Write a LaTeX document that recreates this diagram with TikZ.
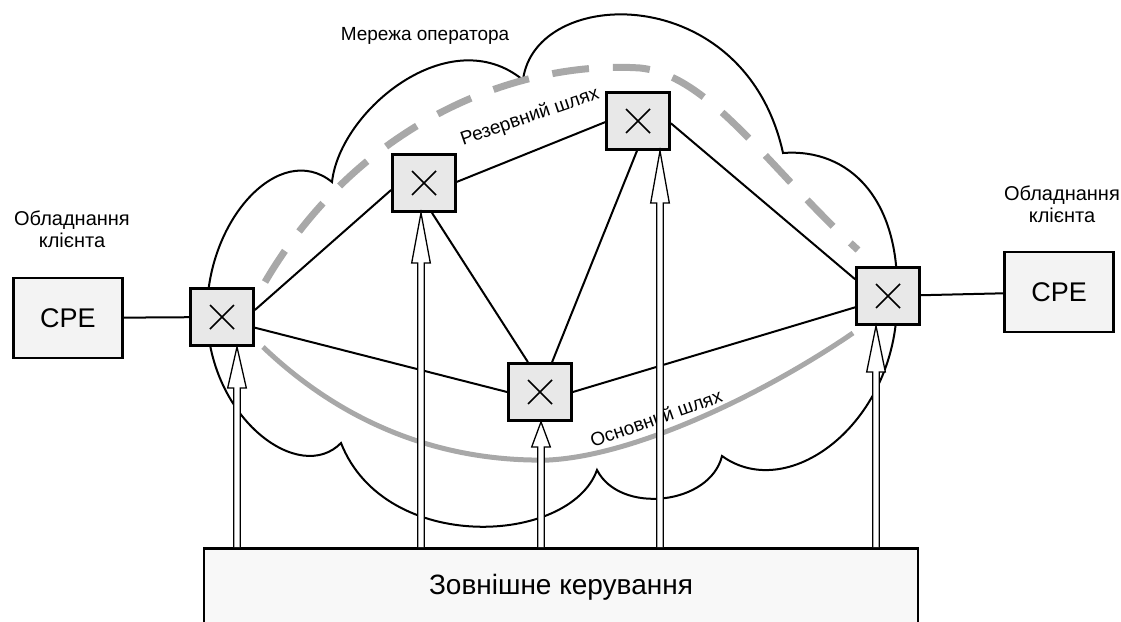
\documentclass[tikz,border=0pt]{standalone}
\usepackage{fontspec}
\setmainfont{Liberation Sans}
\usetikzlibrary{calc}
\definecolor{swfill}{HTML}{E8E8E8}
\definecolor{cpefill}{HTML}{F3F3F3}
\definecolor{mgmtfill}{HTML}{F8F8F8}
\definecolor{route}{HTML}{A8A8A8}
\tikzset{
  sw/.style={draw, line width=2.8pt, fill=swfill, minimum width=63pt, minimum height=57pt, inner sep=0pt,
    path picture={\draw[line width=1.5pt]
      ([shift={(-12pt,-12pt)}]path picture bounding box.center) -- ++(24pt,24pt)
      ([shift={(-12pt,12pt)}]path picture bounding box.center) -- ++(24pt,-24pt);}},
  cpe/.style={draw, line width=2.8pt, fill=cpefill, minimum width=109pt, minimum height=80pt,
    font=\fontsize{27}{30}\selectfont},
  mgmt/.style={draw, line width=2.8pt, fill=mgmtfill, anchor=north, minimum width=714pt,
    minimum height=95pt, text depth=24pt, font=\fontsize{28}{32}\selectfont},
  link/.style={line width=2pt},
  cloud/.style={line width=2pt},
  mainroute/.style={draw=route, line width=5pt},
  backroute/.style={draw=route, line width=7pt, dash pattern=on 37pt off 24pt},
  ctl/.style={fill=white, line width=1.3pt},
  lbl/.style={font=\fontsize{19}{22}\selectfont, align=center}
}
% hollow double-line control arrow: shaft x, from node, to node, head length
\newcommand{\ctrlarrow}[4]{%
  \coordinate (cx) at (#1,0);
  \draw[ctl] ($(cx |- #2.north)+(-3.3,0)$) -- ($(cx |- #3.south)+(-3.3,#4)$)
    -- ($(cx |- #3.south)+(-9.3,#4)$) -- (cx |- #3.south)
    -- ($(cx |- #3.south)+(9.3,#4)$) -- ($(cx |- #3.south)+(3.3,#4)$)
    -- ($(cx |- #2.north)+(3.3,0)$);
}

\begin{document}
\begin{tikzpicture}[x=1pt, y=-1pt]
  \useasboundingbox (0,0) rectangle (1121,621);

  % operator network cloud
  \draw[cloud] (207,317) .. controls (205,220) and (280,140) .. (332,182)
    .. controls (340,110) and (450,20) .. (523,80)
    .. controls (535,-15) and (745,-20) .. (783,153)
    .. controls (850,148) and (900,200) .. (897,296)
    .. controls (900,420) and (790,505) .. (722,456)
    .. controls (710,505) and (620,515) .. (597,470)
    .. controls (570,545) and (385,555) .. (341,443)
    .. controls (300,485) and (210,420) .. cycle;
  \node[lbl] (netlbl) at (425,36) {Мережа оператора};

  % primary and backup routes
  \draw[backroute] (265,282) .. controls (360,120) and (520,60) .. (640,68)
    .. controls (710,75) and (770,170) .. (858,250);
  \draw[mainroute] (263,347) .. controls (350,430) and (450,462) .. (549,460)
    .. controls (640,455) and (770,390) .. (853,333);
  \node[lbl, rotate=19] (backlbl) at (530,117) {Резервний шлях};
  \node[lbl, rotate=19.5] (mainlbl) at (656,418) {Основний шлях};

  % switches and customer equipment
  \node[cpe] (cpeL) at (68,318) {CPE};
  \node[cpe] (cpeR) at (1059,292) {CPE};
  \node[lbl, font=\fontsize{20}{22}\selectfont] (custL) at (72,229) {Обладнання\\клієнта};
  \node[lbl, font=\fontsize{20}{22}\selectfont] (custR) at (1062,204) {Обладнання\\клієнта};

  \node[sw] (sw1) at (222,317) {};
  \node[sw] (sw2) at (424,183) {};
  \node[sw] (sw3) at (638,121) {};
  \node[sw] (sw4) at (540,392) {};
  \node[sw] (sw5) at (888,296) {};

  \draw[link] (cpeL) -- (sw1);
  \draw[link] (sw1.12) -- (sw2.192);
  \draw[link] (sw2.2) -- (sw3.182);
  \draw[link] (sw2.285) -- (sw4.112);
  \draw[link] (sw1.342) -- (sw4.west);
  \draw[link] (sw3.268) -- (sw4.68);
  \draw[link] (sw4.east) -- (sw5.199);
  \draw[link] (sw3.356) -- (sw5.153);
  \draw[link] (sw5) -- (cpeR);

  % external control
  \node[mgmt] (mgmt) at (561,547) {Зовнішне керування};
  \ctrlarrow{237}{mgmt}{sw1}{41}
  \ctrlarrow{421}{mgmt}{sw2}{50}
  \ctrlarrow{541}{mgmt}{sw4}{25}
  \ctrlarrow{660}{mgmt}{sw3}{52}
  \ctrlarrow{876}{mgmt}{sw5}{46}
\end{tikzpicture}
\end{document}
